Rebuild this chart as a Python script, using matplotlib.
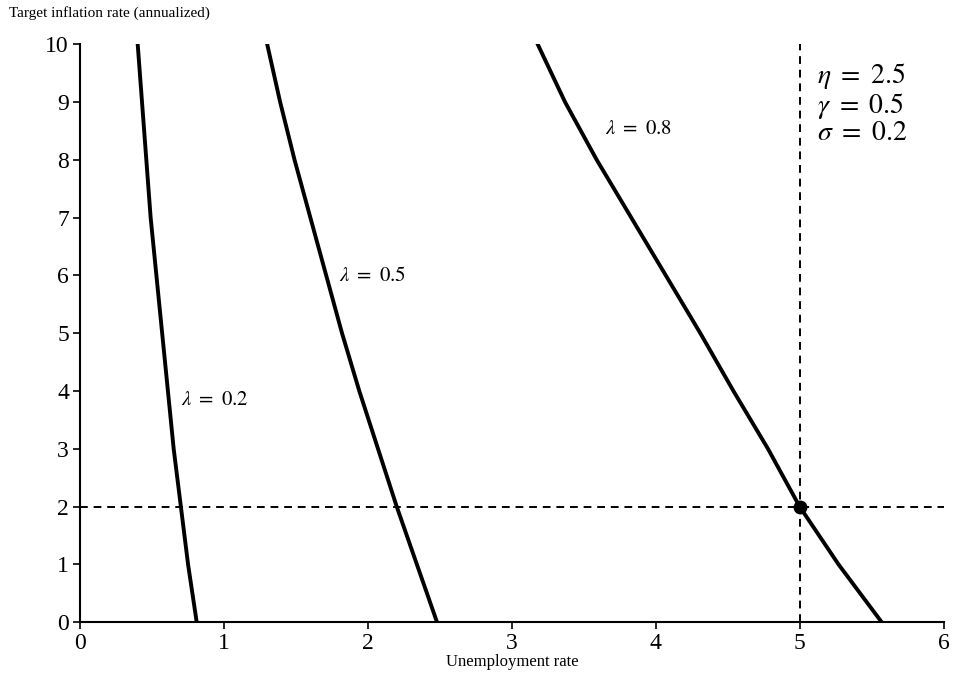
import matplotlib
matplotlib.use('Agg')
import matplotlib.pyplot as plt

plt.rcParams['font.family'] = 'Liberation Serif'
plt.rcParams['mathtext.fontset'] = 'stix'

# inflation values (y) and unemployment read for each lambda curve
pi_vals = [10, 9, 8, 7, 6, 5, 4, 3, 2, 1, 0]
u_l02 = [0.40, 0.43, 0.46, 0.49, 0.53, 0.57, 0.61, 0.65, 0.70, 0.75, 0.81]
u_l05 = [1.30, 1.39, 1.49, 1.60, 1.71, 1.82, 1.94, 2.07, 2.20, 2.34, 2.48]
u_l08 = [3.18, 3.37, 3.59, 3.83, 4.07, 4.31, 4.54, 4.78, 5.00, 5.27, 5.57]
star_u, star_pi = 5, 2

fig = plt.figure(figsize=(9.54, 6.92), dpi=100)
ax = fig.add_axes([0.084, 0.101, 0.905, 0.835])

for u in (u_l02, u_l05, u_l08):
    ax.plot(u, pi_vals, color='black', lw=2.8, solid_joinstyle='round')
ax.axhline(star_pi, color='black', lw=1.4, ls=(0, (4, 3)))
ax.axvline(star_u, color='black', lw=1.4, ls=(0, (4, 3)))
ax.plot([star_u], [star_pi], 'o', color='black', ms=9)

ax.text(0.7, 3.75, r'$\lambda\ =\ 0.2$', fontsize=15)
ax.text(1.8, 5.9, r'$\lambda\ =\ 0.5$', fontsize=15)
ax.text(3.65, 8.45, r'$\lambda\ =\ 0.8$', fontsize=15)
ax.text(5.12, 8.35, '$\\eta\\ =\\ 2.5$\n$\\gamma\\ =\\ 0.5$\n$\\sigma\\ =\\ 0.2$',
        fontsize=20, linespacing=1.0)

ax.set_xlim(0, 6)
ax.set_ylim(0, 10)
ax.set_xticks(range(0, 7))
ax.set_yticks(range(0, 11))
ax.tick_params(labelsize=17, length=5, width=1.2, pad=3)
ax.spines['top'].set_visible(False)
ax.spines['right'].set_visible(False)
ax.spines['left'].set_linewidth(1.5)
ax.spines['bottom'].set_linewidth(1.5)
ax.set_xlabel('Unemployment rate', fontsize=12, labelpad=0)
fig.text(0.009, 0.975, 'Target inflation rate (annualized)', fontsize=11)

fig.savefig('out.png')
